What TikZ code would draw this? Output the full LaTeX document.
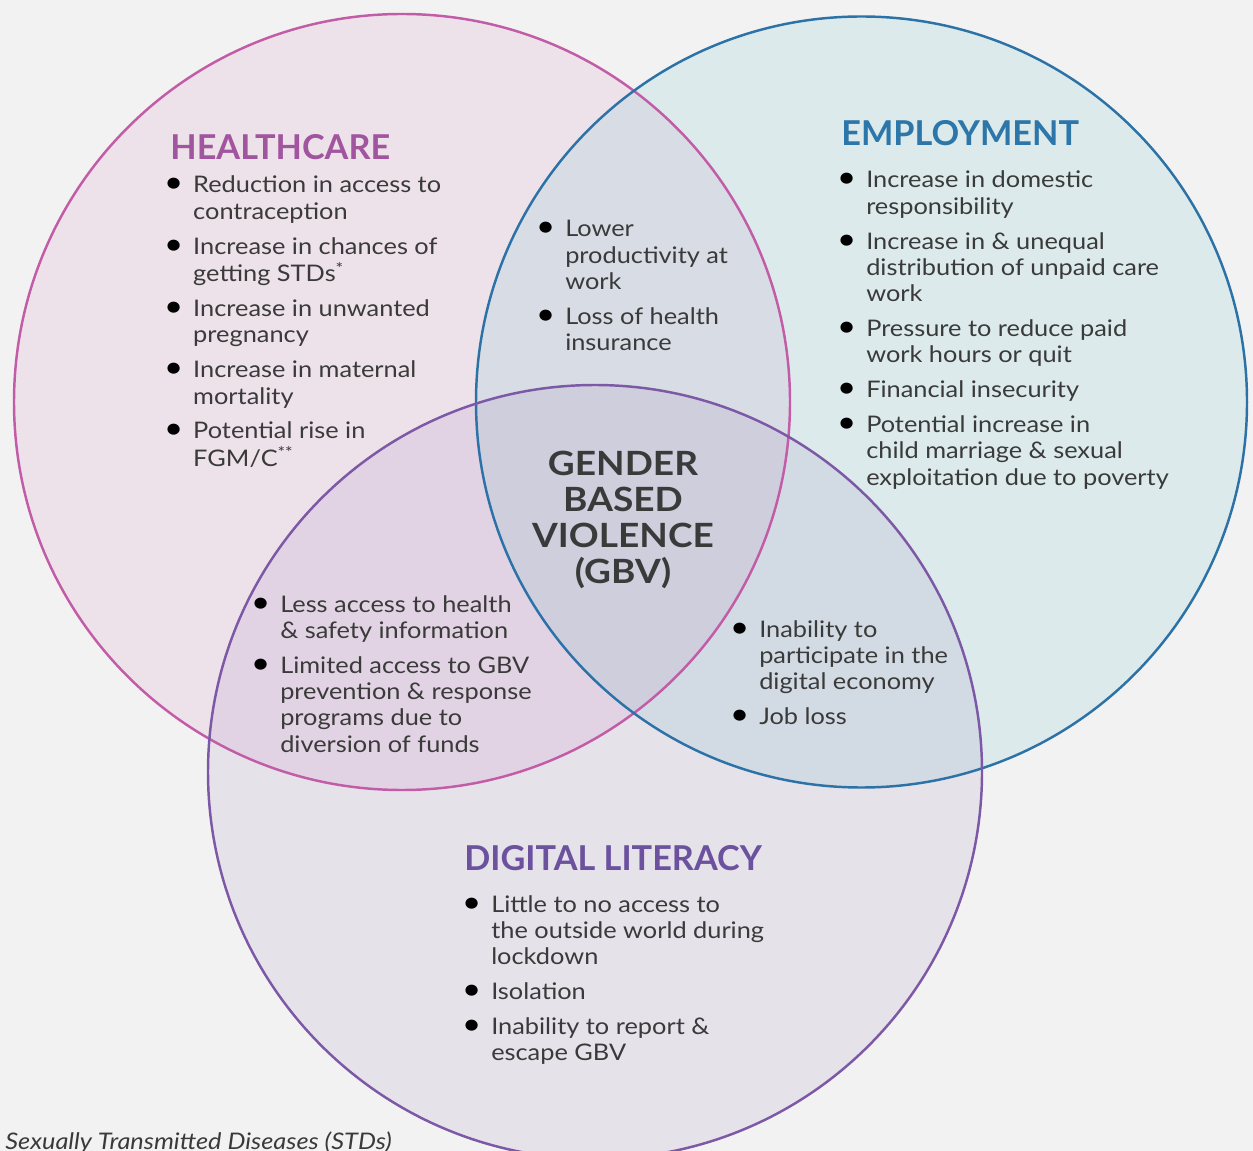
\documentclass[tikz,border=0pt]{standalone}
\usepackage{fontspec}
\setmainfont{Lato}[FakeStretch=1.11]
\newfontfamily\headfamily{Lato}
\definecolor{bgcol}{HTML}{F2F2F2}
\definecolor{healthcol}{HTML}{C25CA6}
\definecolor{workcol}{HTML}{2C72A6}
\definecolor{digicol}{HTML}{7C58A6}
\definecolor{workfill}{HTML}{43B8C0}
\definecolor{healthhead}{HTML}{A2559F}
\definecolor{workhead}{HTML}{2D76A9}
\definecolor{digihead}{HTML}{6B519E}
\definecolor{txtgray}{HTML}{3A3A3A}
\newcommand{\bodyfont}{\fontsize{13}{15}\selectfont}
\newcommand{\dotgap}{13.6pt}
\newcommand{\blt}{\hspace*{-3pt}\textcolor{black}{\scalebox{1.3}{\textbullet}}}
\newcommand{\itemgap}{4.8pt}

\begin{document}
\begin{tikzpicture}[x=0.02cm,y=-0.02cm,
    ring/.style={line width=1.4pt},
    headtext/.style={anchor=base west, inner sep=0pt, font=\headfamily\fontsize{19.5}{22}\selectfont\bfseries},
    listtext/.style={anchor=base west, inner sep=0pt, font=\bodyfont, text=txtgray}]

        \fill[bgcol] (0,0) rectangle (1253,1151);
        \useasboundingbox (0,0) rectangle (1253,1151);

        % circle fills first, then rings
        \fill[healthcol, fill opacity=.1] (402,402) circle (388);
        \fill[workfill, fill opacity=.12] (861.5,402) circle (385.5);
        \fill[digicol, fill opacity=.1] (595,772) circle (387);
        \draw[ring, healthcol] (402,402) circle (388);
        \draw[ring, workcol] (861.5,402) circle (385.5);
        \draw[ring, digicol] (595,772) circle (387);

        \node (healthhd) at (170,160) [headtext, text=healthhead] {HEALTHCARE};
        \node (workhd) at (841,146) [headtext, text=workhead] {EMPLOYMENT};
        \node (digihd) at (464,870) [headtext, text=digihead] {DIGITAL LITERACY};

        \node (gbv) at (623,520) [align=center, inner sep=0pt, text=txtgray,
            font=\fontsize{19}{20.4}\selectfont\bfseries] {GENDER\\BASED\\VIOLENCE\\(GBV)};

        \node (healthlist) at (169,193) [listtext] {\begin{tabular}[t]{@{}p{\dotgap}@{}l@{}}
            \blt & Reduction in access to\\ & contraception\\[\itemgap]
            \blt & Increase in chances of\\ & getting STDs\textsuperscript{*}\\[\itemgap]
            \blt & Increase in unwanted\\ & pregnancy\\[\itemgap]
            \blt & Increase in maternal\\ & mortality\\[\itemgap]
            \blt & Potential rise in\\ & FGM/C\textsuperscript{**}
          \end{tabular}};

        \node (worklist) at (842,188) [listtext] {\begin{tabular}[t]{@{}p{\dotgap}@{}l@{}}
            \blt & Increase in domestic\\ & responsibility\\[\itemgap]
            \blt & Increase in \& unequal\\ & distribution of unpaid care\\ & work\\[\itemgap]
            \blt & Pressure to reduce paid\\ & work hours or quit\\[\itemgap]
            \blt & Financial insecurity\\[\itemgap]
            \blt & Potential increase in\\ & child marriage \& sexual\\ & exploitation due to poverty
          \end{tabular}};

        \node (hwlist) at (541,237) [listtext] {\begin{tabular}[t]{@{}p{\dotgap}@{}l@{}}
            \blt & Lower\\ & productivity at\\ & work\\[\itemgap]
            \blt & Loss of health\\ & insurance
          \end{tabular}};

        \node (hdlist) at (256,612) [listtext] {\begin{tabular}[t]{@{}p{\dotgap}@{}l@{}}
            \blt & Less access to health\\ & \& safety information\\[\itemgap]
            \blt & Limited access to GBV\\ & prevention \& response\\ & programs due to\\ & diversion of funds
          \end{tabular}};

        \node (wdlist) at (735,637) [listtext] {\begin{tabular}[t]{@{}p{\dotgap}@{}l@{}}
            \blt & Inability to\\ & participate in the\\ & digital economy\\[\itemgap]
            \blt & Job loss
          \end{tabular}};

        \node (digilist) at (467,912) [listtext] {\begin{tabular}[t]{@{}p{\dotgap}@{}l@{}}
            \blt & Little to no access to\\ & the outside world during\\ & lockdown\\[\itemgap]
            \blt & Isolation\\[\itemgap]
            \blt & Inability to report \&\\ & escape GBV
          \end{tabular}};

        \node (footnote) at (5,1149) [listtext, font=\bodyfont\itshape] {Sexually Transmitted Diseases (STDs)};

\end{tikzpicture}
\end{document}
